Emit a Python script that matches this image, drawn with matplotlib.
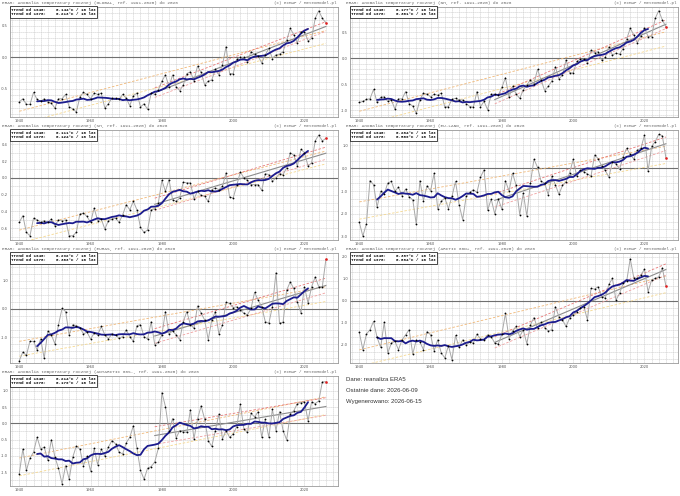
import numpy as np
import matplotlib
matplotlib.use("Agg")
import matplotlib.pyplot as plt
from matplotlib.ticker import MultipleLocator, FixedLocator

years = list(range(1940, 2027))

global_vals = [-0.71, -0.66, -0.75, -0.75, -0.56, -0.67, -0.70, -0.66, -0.71, -0.73,
               -0.81, -0.66, -0.66, -0.59, -0.79, -0.82, -0.87, -0.63, -0.56, -0.59,
               -0.66, -0.57, -0.59, -0.57, -0.81, -0.74, -0.65, -0.65, -0.67, -0.59,
               -0.65, -0.77, -0.61, -0.57, -0.79, -0.74, -0.83, -0.57, -0.59, -0.52,
               -0.38, -0.28, -0.47, -0.28, -0.47, -0.53, -0.44, -0.26, -0.23, -0.37,
               -0.14, -0.24, -0.44, -0.38, -0.36, -0.19, -0.28, -0.12, 0.17, -0.26,
               -0.26, -0.03, 0.00, 0.00, -0.07, 0.09, 0.05, 0.02, -0.09, 0.04,
               0.14, -0.02, 0.04, 0.05, 0.09, 0.27, 0.46, 0.36, 0.23, 0.41,
               0.41, 0.26, 0.30, 0.62, 0.74, 0.62, 0.55]

nh_vals = [-0.85, -0.83, -0.79, -0.78, -0.60, -0.85, -0.75, -0.74, -0.83, -0.80,
           -0.98, -0.78, -0.78, -0.64, -0.87, -0.92, -1.06, -0.80, -0.67, -0.69,
           -0.74, -0.69, -0.71, -0.67, -0.94, -0.93, -0.79, -0.77, -0.80, -0.80,
           -0.87, -0.93, -0.94, -0.64, -0.93, -0.83, -0.99, -0.69, -0.69, -0.71,
           -0.56, -0.37, -0.75, -0.54, -0.69, -0.77, -0.61, -0.51, -0.42, -0.49,
           -0.21, -0.42, -0.62, -0.54, -0.44, -0.16, -0.40, -0.32, -0.03, -0.28,
           -0.28, -0.06, -0.02, -0.02, -0.08, 0.16, 0.11, 0.13, -0.04, 0.02,
           0.22, 0.06, 0.10, 0.08, 0.19, 0.37, 0.58, 0.45, 0.30, 0.43,
           0.59, 0.42, 0.42, 0.77, 0.92, 0.74, 0.61]

sh_vals = [-0.53, -0.45, -0.65, -0.69, -0.48, -0.50, -0.53, -0.51, -0.53, -0.49,
           -0.57, -0.50, -0.51, -0.50, -0.69, -0.69, -0.65, -0.43, -0.42, -0.46,
           -0.53, -0.36, -0.51, -0.49, -0.61, -0.51, -0.49, -0.48, -0.53, -0.44,
           -0.32, -0.38, -0.28, -0.38, -0.59, -0.65, -0.62, -0.38, -0.37, -0.30,
           -0.03, -0.16, -0.02, -0.26, -0.28, -0.24, -0.05, -0.06, -0.06, -0.25,
           -0.16, -0.21, -0.22, -0.28, -0.14, -0.12, -0.14, -0.10, 0.06, -0.23,
           -0.24, -0.09, 0.07, 0.00, -0.03, -0.08, -0.08, -0.08, -0.15, 0.05,
           0.04, -0.04, 0.00, 0.05, 0.04, 0.12, 0.30, 0.27, 0.14, 0.34,
           0.30, 0.14, 0.18, 0.44, 0.51, 0.44, 0.47]

eu_vals = [-2.36, -2.97, -2.43, -0.54, -0.72, -1.70, -1.01, -1.12, -0.65, -0.58,
           -1.01, -0.83, -1.20, -0.91, -1.26, -1.38, -2.46, -0.55, -1.42, -0.77,
           -0.99, -0.22, -1.78, -1.45, -1.30, -1.77, -1.23, -0.58, -1.59, -2.25,
           -1.23, -1.06, -0.94, -1.06, -0.39, -0.07, -1.84, -1.35, -2.00, -1.35,
           -1.80, -0.55, -1.00, -0.22, -0.75, -2.03, -1.09, -2.10, -0.65, 0.39,
           0.04, -0.58, -0.65, -1.16, -0.35, -0.72, -1.15, -0.75, -0.60, -0.20,
           0.39, -0.35, -0.10, -0.15, -0.25, -0.35, 0.58, 0.42, 0.10, -0.10,
           -0.39, 0.25, 0.20, -0.05, 0.50, 0.87, 0.60, 0.40, 0.80, 0.87,
           1.45, -0.14, 0.95, 1.16, 1.48, 1.42, 0.46]

euras_vals = [-1.84, -1.53, -1.65, -1.15, -1.15, -1.46, -1.06, -1.76, -0.78, -0.92,
              -1.24, -0.56, 0.02, -0.09, -0.92, -0.56, -0.59, -0.66, -0.89, -0.82,
              -1.07, -0.86, -0.92, -0.62, -0.92, -1.06, -0.89, -0.92, -1.04, -0.98,
              -0.74, -0.98, -1.15, -0.59, -0.56, -0.98, -1.07, -0.45, -1.27, -1.19,
              -0.92, -0.09, -0.89, -0.78, -0.92, -1.09, -0.45, -0.09, -0.56, -0.68,
              0.11, -0.15, -0.39, -1.09, -0.39, -0.09, -0.89, -0.56, 0.24, 0.20,
              0.05, 0.08, -0.04, -0.15, -0.21, 0.02, 0.59, 0.32, 0.08, -0.45,
              -0.51, 0.08, 1.29, -0.51, -0.47, 0.67, 0.96, 0.73, 0.26, -0.15,
              0.79, 0.20, 0.79, 1.14, 0.79, 0.79, 1.76]

arctic_vals = [-1.44, -2.24, -1.53, -1.33, -0.95, -1.68, -2.14, -0.98, -2.39, -1.94,
               -1.86, -2.24, -1.79, -1.56, -1.33, -2.44, -1.79, -1.89, -2.24, -1.41,
               -1.56, -2.29, -1.79, -2.39, -2.62, -2.05, -2.70, -1.59, -2.14, -1.79,
               -2.02, -1.89, -1.94, -1.53, -1.74, -1.79, -1.56, -1.64, -1.94, -1.98,
               -1.53, -0.58, -1.74, -1.38, -1.18, -1.64, -1.33, -1.97, -1.11, -0.77,
               -1.26, -0.98, -1.23, -1.38, -1.33, -0.27, -0.73, -0.88, -1.18, -0.80,
               -0.65, -0.50, -0.35, -0.27, -0.88, 0.56, 0.53, 0.64, 0.18, 0.11,
               0.74, 1.02, 0.03, 0.33, 0.79, 0.89, 1.92, 1.05, 1.02, 1.17,
               1.44, 0.41, 0.94, 1.02, 1.09, 1.50, 0.68]

antarctic_vals = [-1.55, -0.79, -1.45, -1.07, -0.89, -0.43, -0.79, -0.73, -1.14, -0.50,
                  -1.04, -1.38, -1.86, -1.30, -1.72, -1.04, -0.70, -0.79, -1.30, -1.01,
                  -1.47, -0.77, -1.28, -0.79, -1.01, -0.73, -0.53, -0.63, -0.89, -0.94,
                  -0.60, -0.43, -0.07, -0.77, -1.45, -1.72, -1.38, -1.33, -1.19, -0.77,
                  0.95, 0.52, -0.22, 0.15, -0.45, -0.22, -0.26, -0.28, 0.42, -0.48,
                  0.13, 0.54, 0.13, -0.53, -0.71, -0.22, 0.29, -0.48, -0.22, -0.43,
                  -0.33, -0.10, 0.59, -0.17, -0.28, 0.31, 0.20, 0.36, -0.43, 0.13,
                  -0.43, 0.44, -0.22, 0.36, -0.22, -0.51, 0.29, 0.39, 0.61, 0.64,
                  0.66, 0.08, 0.66, 0.61, 0.69, 1.28, 1.28]

regions = ["GLOBAL", "NH", "SH", "EU-LAND", "EURAS", "ARCTIC 66N+", "ANTARCTIC 66S-"]
trend_1940 = ["0.144", "0.177", "0.111", "0.284", "0.232", "0.387", "0.214"]
trend_1978 = ["0.213", "0.301", "0.124", "0.509", "0.363", "0.684", "0.179"]
y_ticks = [[-0.5, 0, 0.5], [-1, -0.5, 0, 0.5], [-0.6, -0.4, -0.2, 0, 0.2, 0.4],
           [-3, -2, -1, 0, 1], [-1, 0, 1], [-2, -1, 0, 1, 2],
           [-1.5, -1, -0.5, 0, 0.5, 1]]
x_ticks = [1940, 1960, 1980, 2000, 2020]
info_lines = ["Dane: reanaliza ERA5", "Ostatnie dane: 2026-06-09", "Wygenerowano: 2026-06-15"]

series = [global_vals, nh_vals, sh_vals, eu_vals, euras_vals, arctic_vals, antarctic_vals]

# layout / style (not data)
ylims = [(-0.95, 0.80), (-1.13, 0.99), (-0.74, 0.57), (-3.14, 1.67),
         (-1.92, 1.99), (-2.85, 2.18), (-1.93, 1.46)]
ygrid = [0.1, 0.1, 0.1, 1/3, 0.25, 1/3, 0.25]

W, H = 680, 496
fig = plt.figure(figsize=(W/100, H/100), dpi=100)
MONO = "Liberation Mono"

yrs = np.array(years, dtype=float)
for i, vals in enumerate(series):
    v = np.array(vals, dtype=float)
    col, row = i % 2, i // 2
    left = 10 if col == 0 else 350
    row_top = [0, 123, 246, 369][row]
    top = row_top + 7
    ax = fig.add_axes([left / W, 1 - (top + 110) / H, 328 / W, 110 / H])
    ax.set_xlim(1937.4, 2029.4)
    ax.set_ylim(*ylims[i])

    ax.xaxis.set_minor_locator(MultipleLocator(2))
    ax.yaxis.set_minor_locator(MultipleLocator(ygrid[i]))
    ax.grid(True, which="both", color="#c8c8c8", linestyle=(0, (2, 1.2)), linewidth=0.45)
    ax.set_axisbelow(True)
    ax.xaxis.set_major_locator(FixedLocator(x_ticks))
    ax.yaxis.set_major_locator(FixedLocator(y_ticks[i]))
    ax.set_xticklabels([str(t) for t in x_ticks])
    ax.set_yticklabels(["%.1f" % t for t in y_ticks[i]])
    ax.tick_params(which="both", length=0, labelsize=2.6, pad=1.5, colors="#555555")
    for s in ax.spines.values():
        s.set_color("#9a9a9a")
        s.set_linewidth(0.6)

    ax.axhline(0, color="#707070", linewidth=0.8, zorder=2)

    # trend since 1940
    p1 = np.polyfit(yrs, v, 1)
    f1 = np.polyval(p1, yrs)
    s1 = np.std(v - f1)
    ax.plot(yrs, f1 + 0.6 * s1, color="#f0b878", lw=0.6, ls=(0, (3, 2)), zorder=3)
    ax.plot(yrs, f1 - 0.6 * s1, color="#f5d890", lw=0.6, ls=(0, (3, 2)), zorder=3)
    # trend since 1978
    m = yrs >= 1978
    p2 = np.polyfit(yrs[m], v[m], 1)
    f2 = np.polyval(p2, yrs[m])
    s2 = np.std(v[m] - f2)
    ax.plot(yrs[m], f2, color="#8c8c8c", lw=0.8, zorder=3)
    ax.plot(yrs[m], f2 + 0.6 * s2, color="#e87878", lw=0.6, ls=(0, (3, 2)), zorder=3)
    ax.plot(yrs[m], f2 - 0.6 * s2, color="#f0a0a0", lw=0.6, ls=(0, (3, 2)), zorder=3)

    ax.plot(yrs, v, color="#a8a8a8", lw=0.7, zorder=4)
    ma = np.convolve(v, np.ones(11) / 11, mode="valid")
    ax.plot(yrs[5:-5], ma, color="#1c1c8e", lw=1.3, zorder=5, solid_capstyle="round")
    ax.plot(yrs[:-1], v[:-1], "o", color="black", ms=1.3, mew=0, zorder=6)
    ax.plot(yrs[-1:], v[-1:], "o", color="#e02020", ms=1.9, mew=0, zorder=6)

    ax.text(0.003, 0.992,
            "Trend od 1940:    %s\u00b0C / 10 lat\nTrend od 1978:    %s\u00b0C / 10 lat"
            % (trend_1940[i], trend_1978[i]),
            transform=ax.transAxes, ha="left", va="top", family=MONO,
            fontweight="bold", fontsize=3.0, linespacing=1.15, zorder=10,
            bbox=dict(facecolor="white", edgecolor="black", linewidth=0.5,
                      boxstyle="square,pad=0.35"))

    tx = 2 if col == 0 else 346
    fig.text(tx / W, 1 - (row_top + 3) / H,
             "ERA5: Anomalia temperatury rocznej (%s, ref. 1991-2020) do 2026" % regions[i],
             ha="left", va="center", family=MONO, fontsize=3.15, color="#666666")
    fig.text((left + 327) / W, 1 - (row_top + 3) / H, "(c) ECMWF / MeteoModel.pl",
             ha="right", va="center", family=MONO, fontsize=3.0, color="#666666")

for k, line in enumerate(info_lines):
    fig.text(346 / W, 1 - (379.5 + k * 10.8) / H, line, ha="left", va="center",
             family="Liberation Sans", fontsize=4.3, color="#333333")

fig.savefig("out.png", dpi=100)
